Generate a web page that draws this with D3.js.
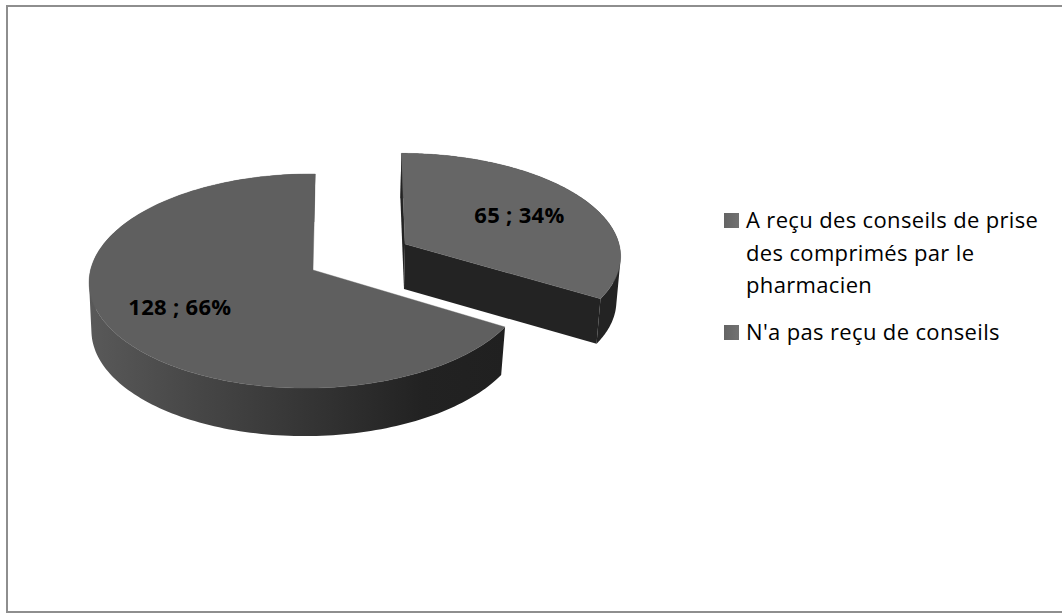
<!DOCTYPE html>
<html><head><meta charset="utf-8">
<script src="https://cdn.jsdelivr.net/npm/d3@7"></script>
<style>html,body{margin:0;padding:0;background:#fff;overflow:hidden}svg{display:block}text{font-family:"Open Sans",sans-serif;fill:#000}</style>
</head><body><div id="c"></div>
<script>
const categories = ["A reçu des conseils de prise des comprimés par le pharmacien", "N'a pas reçu de conseils"];
const legendLines = [["A reçu des conseils de prise", "des comprimés par le", "pharmacien"], ["N'a pas reçu de conseils"]];
const values = [65, 128];
const percents = ["34%", "66%"];

const W = 1062, H = 614;
const svg = d3.select("#c").append("svg").attr("width", W).attr("height", H);
svg.append("rect").attr("x", 7).attr("y", 6).attr("width", 1070).attr("height", 606)
  .attr("fill", "#fff").attr("stroke", "#8e8e8e").attr("stroke-width", 2);

const defs = svg.append("defs");
const grad = defs.append("linearGradient").attr("id", "side").attr("gradientUnits", "userSpaceOnUse")
  .attr("x1", 89).attr("x2", 506).attr("y1", 0).attr("y2", 0);
[[0, "#595959"], [0.25, "#474747"], [0.55, "#333333"], [0.8, "#222222"], [1, "#202020"]]
  .forEach(s => grad.append("stop").attr("offset", s[0]).attr("stop-color", s[1]));
const sw = defs.append("linearGradient").attr("id", "swatch").attr("x1", 0).attr("x2", 1);
[[0, "#646464"], [1, "#727272"]].forEach(s => sw.append("stop").attr("offset", s[0]).attr("stop-color", s[1]));

const arcs = d3.pie().sort(null).value(d => d)(values);

// one perspective view of a disc per slice (slices are exploded apart)
const views = [
  {x0: 405, y0: 244, A: 100, B: 214, k: 0.103, m: 0, s: -4, depth: 45, sx: 0.985, top: "#666666", side: "#232323", labelR: 0.64},
  {x0: 313, y0: 270, A: 105.9, B: 218, k: 0.103, m: 0.02, s: 2.5, depth: 48, sx: 0.985, top: "#5f5f5f", side: "url(#side)", labelR: 0.665}
];
function proj(view, a, r, low) {
  const u = r * Math.sin(a), v = r * Math.cos(a), w = 1 + view.k * v + view.m * u;
  const dx = (view.B * u + view.s * v) / w, dy = -view.A * v / w;
  return low ? [view.x0 + dx * view.sx - 1, view.y0 + dy + view.depth]
             : [view.x0 + dx, view.y0 + dy];
}
const line = d3.line();
function rim(view, a0, a1, low) {
  return d3.range(0, 181).map(i => proj(view, a0 + (a1 - a0) * i / 180, 1, low));
}

arcs.forEach((d, i) => {
  const v = views[i], g = svg.append("g");
  const up = rim(v, d.startAngle, d.endAngle, false), lo = rim(v, d.startAngle, d.endAngle, true);
  // outer wall: strips with one winding direction in a single path, so their union has no seams
  const strips = d3.range(0, 180).map(j => {
    const q = [up[j], up[j + 1], lo[j + 1], lo[j]];
    return line(d3.polygonArea(q) < 0 ? q.reverse() : q) + "Z";
  }).join("");
  g.append("path").attr("d", strips).attr("fill", v.side).attr("fill-rule", "nonzero");
  if (i === 0) {
    // radial cut walls of the small slice
    const a = proj(v, 0, 0, false), b = proj(v, 0, 0, true);
    const e0 = up[0], e1 = up[180], l1 = lo[180];
    g.append("path").attr("d", line([a, e1, l1, b]) + "Z").attr("fill", v.side);
    g.append("path").attr("d", line([a, e0, [e0[0] - 1, e0[1] + 45], b]) + "Z").attr("fill", v.side);
  }
  // top face
  g.append("path").attr("class", "face").attr("d", line([proj(v, 0, 0, false)].concat(up)) + "Z")
    .attr("fill", v.top).attr("stroke", v.top).attr("stroke-width", 0.4);
});

// data labels
arcs.forEach((d, i) => {
  const p = proj(views[i], (d.startAngle + d.endAngle) / 2, views[i].labelR, false);
  svg.append("text").attr("x", p[0]).attr("y", p[1]).attr("dy", "0.42em")
    .attr("text-anchor", "middle").attr("font-weight", 700).attr("font-size", 22)
    .attr("letter-spacing", 0.3).text(values[i] + " ; " + percents[i]);
});

// legend
const legendY = d3.scaleOrdinal().domain(categories).range([228, 340]);
categories.forEach((c, i) => {
  const y0 = legendY(c);
  svg.append("rect").attr("x", 724).attr("y", y0 - 15).attr("width", 15).attr("height", 15).attr("fill", "url(#swatch)");
  legendLines[i].forEach((t, j) => {
    svg.append("text").attr("x", 746).attr("y", y0 + j * 32.5).attr("font-size", 22)
      .attr("letter-spacing", 0.35).text(t);
  });
});
</script></body></html>
